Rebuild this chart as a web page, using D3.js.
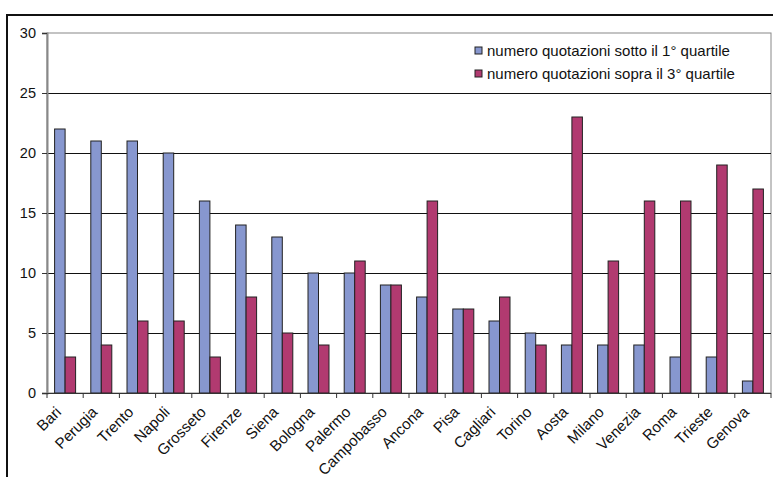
<!DOCTYPE html>
<html><head><meta charset="utf-8">
<script src="https://cdn.jsdelivr.net/npm/d3@7"></script>
<style>
html,body{margin:0;padding:0;background:#fff;}
svg{display:block;font-family:"Liberation Sans",Arial,sans-serif;}
</style></head>
<body>
<svg id="chart" width="773" height="477"></svg>
<script>
const categories = ["Bari","Perugia","Trento","Napoli","Grosseto","Firenze","Siena","Bologna","Palermo","Campobasso","Ancona","Pisa","Cagliari","Torino","Aosta","Milano","Venezia","Roma","Trieste","Genova"];
const sotto = [22,21,21,20,16,14,13,10,10,9,8,7,6,5,4,4,4,3,3,1];
const sopra = [3,4,6,6,3,8,5,4,11,9,16,7,8,4,23,11,16,16,19,17];
const seriesNames = ["numero quotazioni sotto il 1° quartile","numero quotazioni sopra il 3° quartile"];
const yTicks = [0,5,10,15,20,25,30];

const svg = d3.select("#chart");
const L = 47, R = 771, T = 33, B = 393;
const x = d3.scaleBand().domain(categories).range([L, R]).padding(0);
const y = d3.scaleLinear().domain([0,30]).range([B, T]);
const colors = ["#8797cf","#b13a70"];

// outer frame
svg.append("line").attr("x1",7).attr("x2",773).attr("y1",15).attr("y2",15).attr("stroke","#111").attr("stroke-width",2);
svg.append("line").attr("x1",7).attr("x2",7).attr("y1",14).attr("y2",477).attr("stroke","#111").attr("stroke-width",2);

// plot area border
svg.append("rect").attr("x",L).attr("y",T).attr("width",R-L).attr("height",B-T)
  .attr("fill","none").attr("stroke","#888").attr("stroke-width",1);

// gridlines
svg.append("g").selectAll("line").data(yTicks.filter(t=>t>0 && t<30)).join("line")
  .attr("x1",L).attr("x2",R).attr("y1",d=>Math.round(y(d))+0.5).attr("y2",d=>Math.round(y(d))+0.5)
  .attr("stroke","#111").attr("stroke-width",1);

// bars
const bw = x.bandwidth();
const barW = 10.5;
const off = (bw - 2*barW)/2;
const series = [sotto, sopra];
series.forEach((vals, si) => {
  svg.append("g").selectAll("rect").data(categories).join("rect")
    .attr("x",(d)=>x(d)+off+si*barW)
    .attr("y",(d,i)=>y(vals[i]))
    .attr("width",barW)
    .attr("height",(d,i)=>B-y(vals[i]))
    .attr("fill",colors[si])
    .attr("stroke","#222").attr("stroke-width",1);
});

// y axis
const yAxis = d3.axisLeft(y).tickValues(yTicks).tickSize(5).tickPadding(6);
const gy = svg.append("g").attr("transform",`translate(${L},0)`).call(yAxis);
gy.select(".domain").attr("stroke","#888").attr("stroke-width",2);
gy.selectAll(".tick line").attr("stroke","#333");
gy.selectAll("text").attr("font-size",14.5).attr("fill","#111").attr("font-family","Liberation Sans, Arial, sans-serif");

// x axis
const gx = svg.append("g").attr("transform",`translate(0,${B})`);
gx.append("line").attr("x1",L).attr("x2",R).attr("y1",0.5).attr("y2",0.5).attr("stroke","#333").attr("stroke-width",1.2);
const bounds = categories.map(c=>x(c)).concat([R]);
gx.selectAll("line.tk").data(bounds).join("line").attr("class","tk")
  .attr("x1",d=>d).attr("x2",d=>d).attr("y1",0).attr("y2",5).attr("stroke","#333");
gx.selectAll("text").data(categories).join("text")
  .attr("transform",d=>`translate(${x(d)+bw/2-3},${20}) rotate(-45)`)
  .attr("text-anchor","end").attr("font-size",15.2).attr("fill","#111")
  .text(d=>d);

// legend
const lg = svg.append("g");
seriesNames.forEach((n,i)=>{
  const cy = 51 + i*23;
  lg.append("rect").attr("x",475).attr("y",cy-4).attr("width",7).attr("height",7)
    .attr("fill",colors[i]).attr("stroke","#222").attr("stroke-width",1);
  lg.append("text").attr("x",487).attr("y",cy+5).attr("font-size",15).attr("fill","#111").text(n);
});
</script>
</body></html>
